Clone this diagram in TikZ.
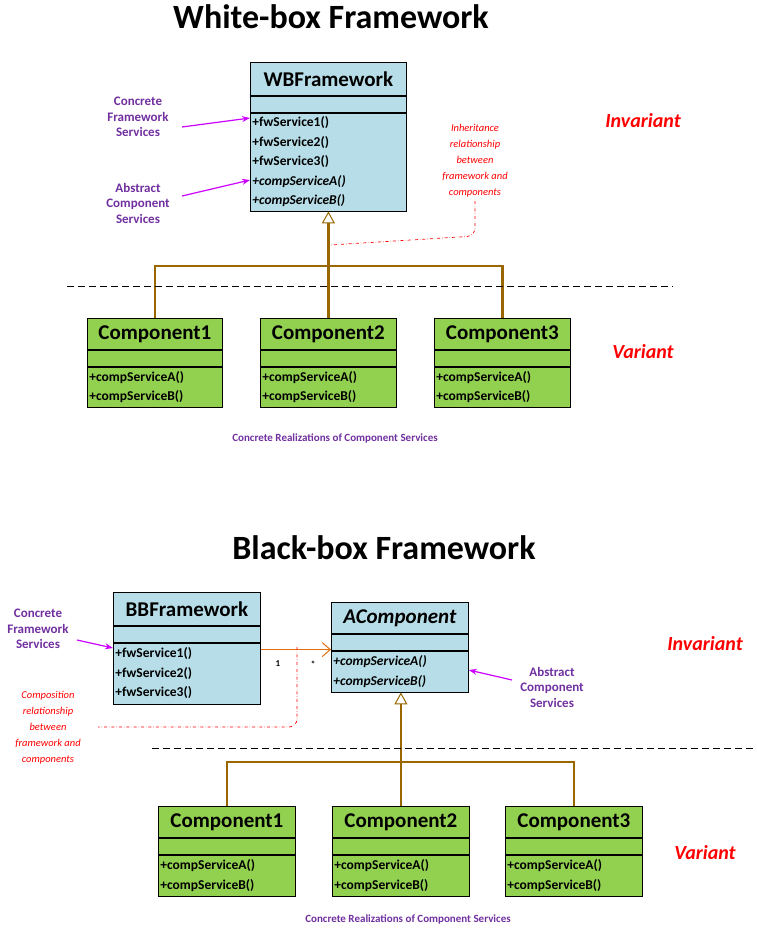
\documentclass[tikz,border=0pt]{standalone}
\usepackage{fontspec}
\setmainfont{Carlito}
\usetikzlibrary{arrows.meta,positioning,calc}
\definecolor{clsblue}{RGB}{183,222,232}
\definecolor{clsgreen}{RGB}{146,208,80}
\definecolor{genbrown}{RGB}{153,102,0}
\definecolor{notepurple}{RGB}{112,48,160}
\definecolor{ptrmagenta}{RGB}{204,0,255}
\definecolor{assocorange}{RGB}{228,108,10}
\tikzset{
  cls/.style={draw=black, line width=0.8pt, inner sep=2pt},
  wbcls/.style={cls, fill=clsblue},
  cpcls/.style={cls, fill=clsgreen},
  hdr/.style={font=\fontsize{21}{24}\selectfont\bfseries},
  meth/.style={font=\fontsize{13.5}{19.5}\selectfont\bfseries},
  title/.style={font=\fontsize{34}{38}\selectfont\bfseries},
  zone/.style={text=red, font=\fontsize{20}{24}\selectfont\bfseries\itshape},
  note/.style={text=notepurple, align=center, font=\fontsize{13}{19.5}\selectfont\bfseries},
  remark/.style={text=red, align=center, font=\fontsize{10.5}{16}\selectfont\itshape},
  pointer/.style={-{Stealth[length=8pt,width=6pt]}, ptrmagenta, line width=1.2pt},
  gen/.style={genbrown, line width=2.4pt},
  genhead/.style={-{Triangle[open,fill=white,length=12pt,width=13pt,line width=1pt]}, genbrown, line width=2.4pt},
  trace/.style={red, dash dot, line width=0.7pt, rounded corners=8pt},
  split/.style={dashed, dash pattern=on 7pt off 4pt, line width=0.8pt}
}
% style, name, x, y, width, header height, methods height, title, methods
\newcommand{\umlclass}[9]{%
  \node[#1, hdr, minimum width=#5, minimum height=#6, anchor=north west] (#2) at (#3,#4) {#8};
  \node[#1, minimum width=#5, minimum height=16, anchor=north west] (#2e) at (#2.south west) {};
  \node[#1, meth, minimum width=#5, minimum height=#7, text width=#5-4, align=left, anchor=north west] (#2m) at (#2e.south west) {#9};
}
\begin{document}
\begin{tikzpicture}[x=1pt,y=1pt]
\useasboundingbox (0,0) rectangle (757,-929);

% White-box
\node[title] (wbtitle) at (331,-17) {White-box Framework};
\umlclass{wbcls}{wb}{250}{-62}{156}{33}{98}{WBFramework}{+fwService1()\\+fwService2()\\+fwService3()\\\itshape +compServiceA()\\\itshape +compServiceB()}
\umlclass{cpcls}{wc1}{87}{-318}{135}{31}{40}{Component1}{+compServiceA()\\+compServiceB()}
\umlclass{cpcls}{wc2}{260}{-318}{136}{31}{40}{Component2}{+compServiceA()\\+compServiceB()}
\umlclass{cpcls}{wc3}{434}{-318}{136}{31}{40}{Component3}{+compServiceA()\\+compServiceB()}
\coordinate (wbbus) at (328,-266);
\draw[gen] (wc1.north) |- (wbbus) -| (wc3.north);
\draw[genhead] (wc2.north) -- (wc2.north |- wbm.south);
\draw[split] (67,-286) -- (673,-286);
\node[zone] (wbinv) at (643,-121) {Invariant};
\node[zone] (wbvar) at (643,-352) {Variant};
\node[note] (wbconc) at (138,-117) {Concrete\\[-4pt]Framework\\[-4pt]Services};
\node[note] (wbabs) at (138,-203) {Abstract\\[-4pt]Component\\[-4pt]Services};
\draw[pointer] (182,-127) -- (wbm.west |- 0,-118);
\draw[pointer] (182,-196) -- (wbm.west |- 0,-180);
\node[remark] (wbrem) at (475,-161) {Inheritance\\relationship\\between\\framework and\\components};
\draw[trace] (wbrem.south) -- ++(0,-35) -- (330,-245);
\node[note, font=\fontsize{11}{13}\selectfont\bfseries] (wbcap) at (335,-438) {Concrete Realizations of Component Services};

% Black-box
\node[title] (bbtitle) at (384,-548) {Black-box Framework};
\umlclass{wbcls}{bb}{113}{-592}{147}{33}{61}{BBFramework}{+fwService1()\\+fwService2()\\+fwService3()}
\umlclass{wbcls}{ac}{331}{-602}{137}{31}{41}{\itshape AComponent}{\itshape +compServiceA()\\\itshape +compServiceB()}
\draw[assocorange, line width=1.4pt, -{Straight Barb[length=8pt,width=14pt,line width=1pt]}] (bbm.north east) ++(0,-7) coordinate (assoc) -- (assoc -| acm.west);
\node[font=\fontsize{9}{10}\selectfont\bfseries] (mult1) at (278,-664) {1};
\node[font=\fontsize{9}{10}\selectfont\bfseries] (multn) at (313,-664) {*};
\node[remark] (bbrem) at (48,-728) {Composition\\relationship\\between\\framework and\\components};
\draw[trace] (297,-647) -- (297,-727) -- (98,-727);
\umlclass{cpcls}{bc1}{158}{-806}{137}{31}{41}{Component1}{+compServiceA()\\+compServiceB()}
\umlclass{cpcls}{bc2}{332}{-806}{137}{31}{41}{Component2}{+compServiceA()\\+compServiceB()}
\umlclass{cpcls}{bc3}{505}{-806}{137}{31}{41}{Component3}{+compServiceA()\\+compServiceB()}
\coordinate (bbbus) at (401,-762);
\draw[gen] (bc1.north) |- (bbbus) -| (bc3.north);
\draw[genhead] (bc2.north) -- (bc2.north |- acm.south);
\draw[split] (152,-748) -- (757,-748);
\node[zone] (bbinv) at (705,-644) {Invariant};
\node[zone] (bbvar) at (705,-853) {Variant};
\node[note] (bbconc) at (38,-629) {Concrete\\[-4pt]Framework\\[-4pt]Services};
\node[note] (bbabs) at (552,-687) {Abstract\\[-4pt]Component\\[-4pt]Services};
\draw[pointer] (77,-640) -- (bbm.west |- 0,-648);
\draw[pointer] (512,-680) -- (acm.east |- 0,-670);
\node[note, font=\fontsize{11}{13}\selectfont\bfseries] (bbcap) at (408,-919) {Concrete Realizations of Component Services};
\end{tikzpicture}
\end{document}
